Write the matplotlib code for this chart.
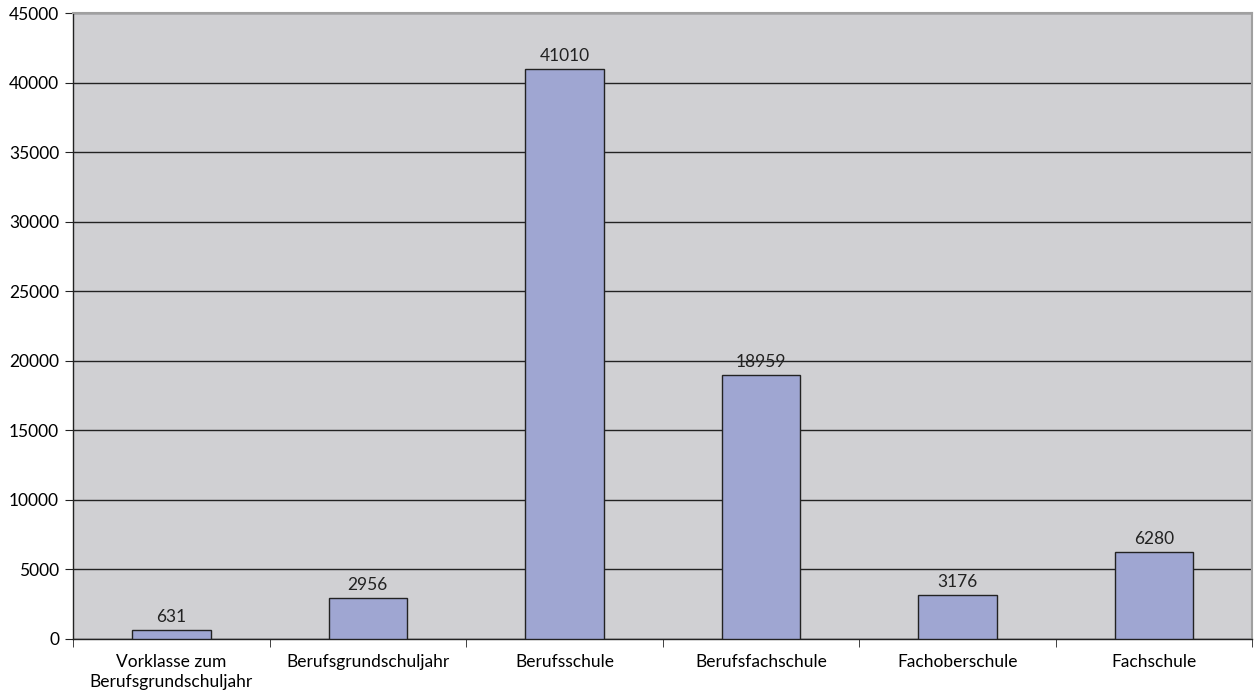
import matplotlib
matplotlib.use("Agg")
import matplotlib.pyplot as plt
import numpy as np

categories = ["Vorklasse zum\nBerufsgrundschuljahr", "Berufsgrundschuljahr", "Berufsschule",
              "Berufsfachschule", "Fachoberschule", "Fachschule"]
values = [631, 2956, 41010, 18959, 3176, 6280]
yticks = [0, 5000, 10000, 15000, 20000, 25000, 30000, 35000, 40000, 45000]

plt.rcParams['font.family'] = ['Lato', 'DejaVu Sans']

fig = plt.figure(figsize=(12.54, 6.93), dpi=100)
ax = fig.add_axes([0.0582, 0.078, 0.9405, 0.903])
ax.set_facecolor('#d0d0d3')

x = np.arange(len(categories))
ax.bar(x, values, width=0.4, color='#9fa6d2', edgecolor='#222222', linewidth=1.0, zorder=3)
for xi, v in zip(x, values):
    ax.text(xi, v + 350, str(v), ha='center', va='bottom', fontsize=12.5, color='#222222', zorder=4)

ax.set_xlim(-0.5, len(categories) - 0.5)
ax.set_ylim(0, 45000)
ax.set_yticks(yticks)
ax.set_yticklabels([str(t) for t in yticks], fontsize=12.5)
ax.yaxis.grid(True, color='#222222', linewidth=1.0, zorder=1)
ax.set_axisbelow(True)

ax.set_xticks(x)
ax.set_xticklabels(categories, fontsize=12.5, linespacing=1.3)
ax.tick_params(axis='x', length=0, pad=11)
ax.set_xticks(np.arange(-0.5, len(categories), 1.0), minor=True)
ax.tick_params(axis='x', which='minor', length=6, direction='out', color='#222222')
ax.tick_params(axis='y', length=6, direction='out', color='#222222', pad=4)

for s in ['left', 'bottom']:
    ax.spines[s].set_color('#222222')
    ax.spines[s].set_linewidth(1.0)
for s in ['top', 'right']:
    ax.spines[s].set_color('#a0a0a0')
    ax.spines[s].set_linewidth(1.5)

fig.savefig('out.png', dpi=100)
